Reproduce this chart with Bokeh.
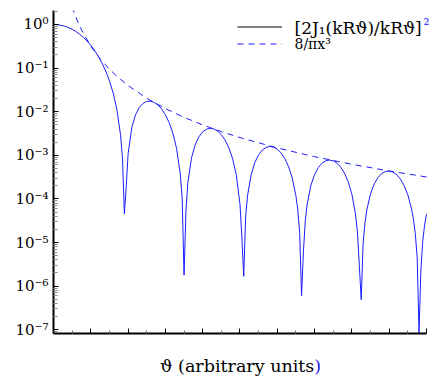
from bokeh.plotting import figure
from bokeh.models import Range1d, FixedTicker, Legend, LegendItem, CustomJSTickFormatter, Label, Div
from bokeh.layouts import column
from bokeh.embed import file_html
from bokeh.resources import INLINE

# --- data (x = kR*theta, arbitrary units) ---
theta = [0.0, 0.2, 0.4, 0.6, 0.8, 1.0, 1.2, 1.4, 1.6, 1.8, 2.0, 2.2, 2.4, 2.6, 2.8, 3.0, 3.2, 3.4, 3.6,
         3.7, 3.8, 3.9,
         4.0, 4.2, 4.4, 4.6, 4.8, 5.0, 5.2, 5.4, 5.6, 5.8, 6.0, 6.2, 6.4, 6.6, 6.8,
         6.9, 7.0, 7.1,
         7.2, 7.4, 7.6, 7.8, 8.0, 8.2, 8.4, 8.6, 8.8, 9.0, 9.2, 9.4, 9.6, 9.8, 10.0,
         10.1, 10.2, 10.3, 10.4,
         10.6, 10.8, 11.0, 11.2, 11.4, 11.6, 11.8, 12.0, 12.2, 12.4, 12.6, 12.8, 13.0,
         13.1, 13.2, 13.3, 13.4, 13.5, 13.6,
         13.8, 14.0, 14.2, 14.4, 14.6, 14.8, 15.0, 15.2, 15.4, 15.6, 15.8, 16.0, 16.2,
         16.3, 16.4, 16.5, 16.6, 16.7, 16.8,
         17.0, 17.2, 17.4, 17.6, 17.8, 18.0, 18.2, 18.4, 18.6, 18.8, 19.0, 19.2,
         19.3, 19.4, 19.5, 19.6, 19.7, 19.8, 19.9, 20.0]

intensity = [1.0, 0.990, 0.960, 0.9133, 0.850, 0.7748, 0.6897, 0.5993, 0.5075, 0.4175, 0.3326, 0.2555,
             0.1879, 0.1312, 0.0856, 0.0511, 0.02667, 0.01111, 0.002815,
             8.51e-4, 4.55e-5, 1.95e-4,
             1.089e-3, 4.356e-3, 8.497e-3, 1.245e-2, 1.547e-2, 1.717e-2, 1.742e-2, 1.636e-2, 1.425e-2,
             1.150e-2, 8.507e-3, 5.645e-3, 3.221e-3, 1.435e-3, 3.678e-4,
             1.028e-4, 1.79e-6, 5.03e-5,
             2.275e-4, 8.774e-4, 1.755e-3, 2.667e-3, 3.440e-3, 3.960e-3, 4.157e-3, 4.025e-3, 3.603e-3,
             2.971e-3, 2.234e-3, 1.493e-3, 8.446e-4, 3.587e-4, 7.57e-5,
             1.33e-5, 1.68e-6, 3.715e-5, 1.157e-4,
             3.635e-4, 6.909e-4, 1.030e-3, 1.319e-3, 1.519e-3, 1.595e-3, 1.546e-3, 1.383e-3, 1.138e-3,
             8.476e-4, 5.563e-4, 3.027e-4, 1.169e-4,
             5.55e-5, 1.679e-5, 6.05e-7, 6.13e-6, 3.17e-5, 7.50e-5,
             2.029e-4, 3.623e-4, 5.234e-4, 6.589e-4, 7.483e-4, 7.781e-4, 7.466e-4, 6.612e-4, 5.357e-4,
             3.915e-4, 2.487e-4, 1.275e-4, 4.27e-5,
             1.69e-5, 2.87e-6, 4.89e-7, 9.24e-6, 2.82e-5, 5.61e-5,
             1.319e-4, 2.217e-4, 3.099e-4, 3.813e-4, 4.253e-4, 4.359e-4, 4.122e-4, 3.592e-4, 2.855e-4,
             2.030e-4, 1.237e-4, 5.86e-5,
             3.41e-5, 1.60e-5, 4.58e-6, 8.5e-8, 2.35e-6, 1.10e-5, 2.53e-5, 4.46e-5]

envelope_x = [1.0, 1.2, 1.5, 2.0, 2.5, 3.0, 3.5, 4.0, 5.0, 6.0, 7.0, 8.0, 9.0, 10.0, 12.0, 14.0, 16.0, 18.0, 20.0]
envelope_y = [2.5465, 1.4737, 0.75451, 0.31831, 0.16297, 0.094314, 0.059393, 0.039789, 0.020372, 0.011789,
              0.0074241, 0.0049736, 0.0034931, 0.0025465, 0.0014737, 0.00092802, 0.0006217, 0.00043664,
              0.00031831]

legend_main = "[2J\u2081(kR\u03d1)/kR\u03d1]"
legend_sup = "\u00b2"
legend_env = "8/\u03c0x\u00b3"
x_label_main = "\u03d1 (arbitrary units"
x_label_end = ")"
y_decades = list(range(-7, 1))

BLUE = "#1c1cff"
FONT = "DejaVu Serif"

p = figure(width=445, height=345, output_backend="svg", toolbar_location=None,
           x_range=Range1d(0, 21.0188), y_range=Range1d(10 ** -7.087, 10 ** 0.321),
           y_axis_type="log",
           min_border_left=53, min_border_right=0, min_border_top=10, min_border_bottom=12)
p.outline_line_color = None
p.xgrid.visible = False
p.ygrid.visible = False
p.background_fill_color = "white"
p.border_fill_color = "white"

curve = p.line(theta, intensity, line_color=BLUE, line_width=1)
env = p.line(envelope_x, envelope_y, line_color=BLUE, line_width=1, line_dash="6 5")
key = p.line(theta[:1], intensity[:1], line_color="black", line_width=1)

ya = p.yaxis[0]
ya.ticker = FixedTicker(ticks=[10.0 ** k for k in y_decades],
                        minor_ticks=[m * 10.0 ** k for k in range(-8, 1) for m in range(2, 10)])
ya.formatter = CustomJSTickFormatter(code="""
const sup = {'-':'\u207b','0':'\u2070','1':'\u00b9','2':'\u00b2','3':'\u00b3','4':'\u2074','5':'\u2075','6':'\u2076','7':'\u2077','8':'\u2078','9':'\u2079'};
const e = Math.round(Math.log10(tick)).toString();
return '10' + e.split('').map(c => sup[c]).join('');
""")
ya.major_label_text_font = FONT
ya.major_label_text_font_size = "15px"
ya.major_label_text_color = "black"
ya.major_label_standoff = 5
ya.axis_line_width = 2
ya.axis_line_color = "black"
ya.major_tick_in = 5
ya.major_tick_out = 0
ya.major_tick_line_color = "black"
ya.minor_tick_in = 4
ya.minor_tick_out = 0
ya.minor_tick_line_color = "#8a8a8a"

xa = p.xaxis[0]
xa.bounds = (0, 20)
xa.ticker = FixedTicker(ticks=list(range(0, 21, 2)), minor_ticks=list(range(1, 20, 2)))
xa.formatter = CustomJSTickFormatter(code="return '';")
xa.major_label_text_font_size = "1px"
xa.major_label_standoff = 0
xa.axis_line_width = 2
xa.axis_line_color = "black"
xa.major_tick_in = 5
xa.major_tick_out = 0
xa.major_tick_line_color = "black"
xa.minor_tick_in = 3
xa.minor_tick_out = 0
xa.minor_tick_line_color = "#6a6a6a"

# legend swatches (labels drawn separately so that their colours can differ)
legend = Legend(items=[LegendItem(label=" ", renderers=[key]),
                       LegendItem(label=" ", renderers=[env])],
                location=(184, 281))
legend.border_line_color = None
legend.background_fill_alpha = 0
legend.padding = 0
legend.margin = 0
legend.spacing = 0
legend.glyph_width = 45
legend.glyph_height = 17
legend.label_height = 17
legend.label_width = 1
legend.label_standoff = 0
legend.label_text_font = FONT
legend.label_text_font_size = "15px"
p.add_layout(legend)

def screen_label(text, x, y, size, color="black", align="left"):
    lab = Label(x=x, y=y, x_units="screen", y_units="screen", text=text,
                text_font=FONT, text_font_size=size, text_color=color,
                text_align=align, text_baseline="middle")
    p.add_layout(lab)

screen_label(legend_main, 241, 306, "17px")
screen_label(legend_sup, 370, 309, "15px", color=BLUE)
screen_label(legend_env, 241, 290, "14px")

xlabel = Div(
    text=('<div style="padding-left:160px;padding-top:11px;font-family:\'DejaVu Serif\';'
          'font-size:17.5px;line-height:20px;white-space:nowrap;color:black">'
          + x_label_main + '<span style="color:' + BLUE + '">' + x_label_end + '</span></div>'),
    width=445, height=32, margin=(0, 0, 0, 0))

layout = column(p, xlabel, spacing=0)

open("out.html", "w").write(file_html(layout, INLINE))
